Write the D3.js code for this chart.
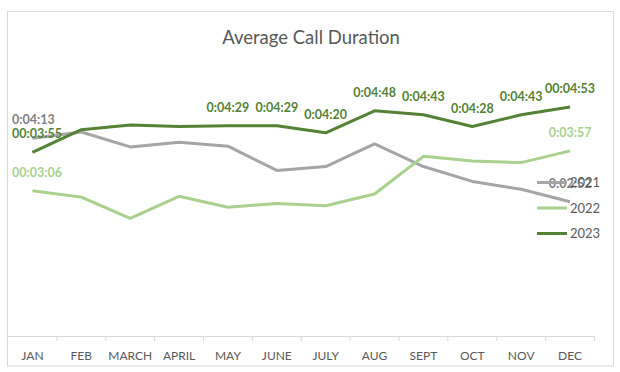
<!DOCTYPE html>
<html>
<head>
<meta charset="utf-8">
<script src="https://cdn.jsdelivr.net/npm/d3@7"></script>
<style>
  body { margin: 0; background: #fff; }
  svg { display: block; font-family: Lato, "Open Sans", sans-serif; }
</style>
</head>
<body>
<div id="chart"></div>
<script>
// months on the x axis
var months = ["JAN", "FEB", "MARCH", "APRIL", "MAY", "JUNE", "JULY", "AUG", "SEPT", "OCT", "NOV", "DEC"];
// average call duration in seconds
var calls2021 = [253, 261, 242, 248, 243, 212, 217, 246, 217, 198, 188, 172];
var calls2022 = [186, 178, 151, 179, 165, 170, 167, 182, 230, 224, 222, 237];
var calls2023 = [235, 264, 270, 268, 269, 269, 260, 288, 283, 268, 283, 293];
// data labels as shown (null = no label)
var labels2021 = ["0:04:13", null, null, null, null, null, null, null, null, null, null, "0:02:52"];
var labels2022 = ["00:03:06", null, null, null, null, null, null, null, null, null, null, "0:03:57"];
var labels2023 = ["00:03:55", null, null, null, "0:04:29", "0:04:29", "0:04:20", "0:04:48", "0:04:43", "0:04:28", "0:04:43", "00:04:53"];
var seriesNames = ["2021", "2022", "2023"];

var width = 620, height = 372;
var series = [
  {name: seriesNames[0], values: calls2021, labels: labels2021, color: "#A5A5A5", labelColor: "#7F7F7F"},
  {name: seriesNames[1], values: calls2022, labels: labels2022, color: "#A9D18E", labelColor: "#A9D18E"},
  {name: seriesNames[2], values: calls2023, labels: labels2023, color: "#548235", labelColor: "#548235"}
];

var svg = d3.select("#chart").append("svg")
  .attr("width", width)
  .attr("height", height);

// chart frame
svg.append("rect")
  .attr("x", 7.5).attr("y", 11.5)
  .attr("width", 606).attr("height", 354.5)
  .attr("fill", "#fff")
  .attr("stroke", "#D9D9D9");

svg.append("text")
  .attr("x", 311).attr("y", 44)
  .attr("text-anchor", "middle")
  .attr("font-size", 18.5)
  .attr("fill", "#595959")
  .text("Average Call Duration");

var x = d3.scaleBand().domain(months).range([8, 594.5]);
var y = d3.scaleLinear().domain([0, 360]).range([336.7, 54.4]);
function cx(m) { return x(m) + x.bandwidth() / 2; }

// x axis: line, ticks between categories, labels
var axisY = 336.5;
svg.append("line")
  .attr("x1", x.range()[0]).attr("x2", x.range()[1])
  .attr("y1", axisY).attr("y2", axisY)
  .attr("stroke", "#D9D9D9");

svg.selectAll(".tick")
  .data(months.slice(1).concat(["end"]))
  .enter().append("line")
  .attr("class", "tick")
  .attr("x1", function(d) { return d == "end" ? x.range()[1] : x(d); })
  .attr("x2", function(d) { return d == "end" ? x.range()[1] : x(d); })
  .attr("y1", axisY).attr("y2", axisY + 4.5)
  .attr("stroke", "#D9D9D9");

svg.selectAll(".mlabel")
  .data(months)
  .enter().append("text")
  .attr("class", "mlabel")
  .attr("x", function(d) { return cx(d); })
  .attr("y", 359.5)
  .attr("text-anchor", "middle")
  .attr("font-size", 12)
  .attr("fill", "#595959")
  .text(function(d) { return d; });

var line = d3.line()
  .x(function(d, i) { return cx(months[i]); })
  .y(function(d) { return y(d); });

series.forEach(function(s) {
  svg.append("path")
    .datum(s.values)
    .attr("d", line)
    .attr("fill", "none")
    .attr("stroke", s.color)
    .attr("stroke-width", 3)
    .attr("stroke-linejoin", "round");
});

// data labels above the points
series.forEach(function(s) {
  s.labels.forEach(function(lab, i) {
    if (!lab) return;
    var t = svg.append("text")
      .attr("x", cx(months[i]))
      .attr("y", y(s.values[i]) - 14)
      .attr("text-anchor", "middle")
      .attr("font-size", 12.5)
      .attr("font-weight", "bold")
      .attr("fill", s.labelColor)
      .text(lab);
    var w = t.node().getComputedTextLength();
    var left = cx(months[i]) - w / 2;
    if (left < 12) t.attr("x", 12 + w / 2);
  });
});

// legend
var legend = svg.selectAll(".legend")
  .data(series)
  .enter().append("g")
  .attr("class", "legend")
  .attr("transform", function(d, i) { return "translate(537," + (182.5 + i * 25.5) + ")"; });

legend.append("line")
  .attr("x1", 0).attr("x2", 30)
  .attr("stroke", function(d) { return d.color; })
  .attr("stroke-width", 3);

legend.append("text")
  .attr("x", 33).attr("y", 4.5)
  .attr("font-size", 13)
  .attr("fill", "#595959")
  .text(function(d) { return d.name; });
</script>
</body>
</html>
